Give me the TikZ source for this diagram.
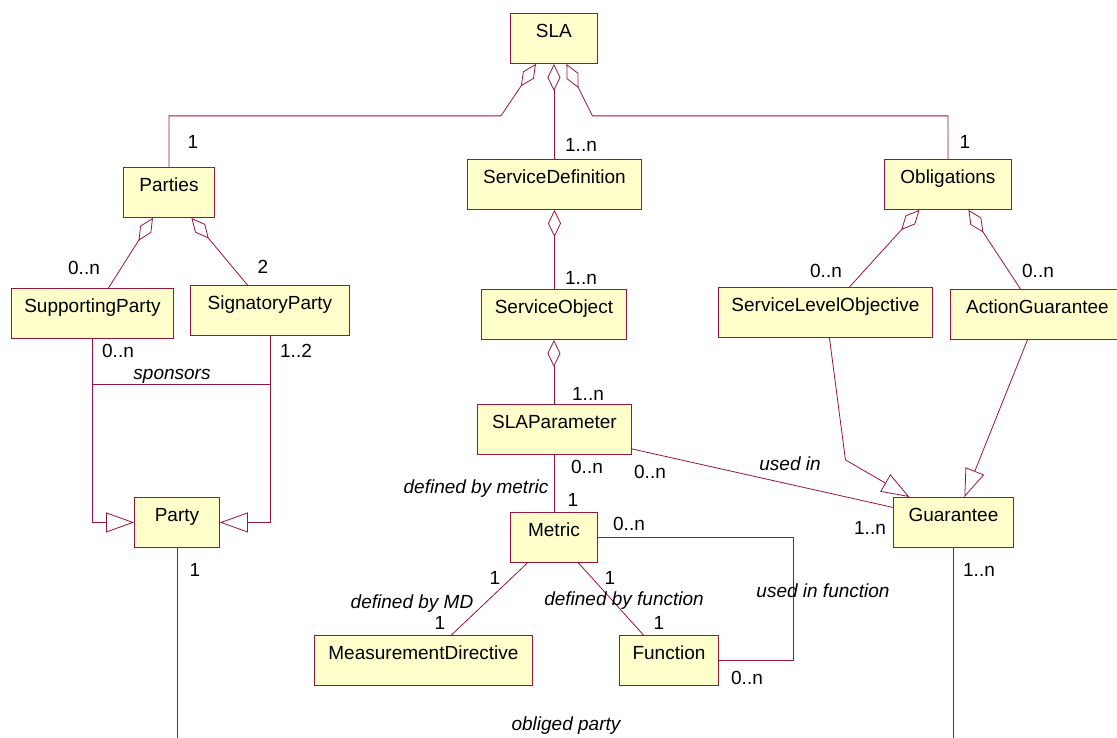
\documentclass[tikz,border=0pt]{standalone}
\usepackage{fontspec}
\setmainfont{Liberation Sans}
\usepackage{tikz}
\usetikzlibrary{arrows.meta}
\usetikzlibrary{calc}
\definecolor{umlred}{RGB}{153,20,60}
\definecolor{umlyellow}{RGB}{255,255,204}
\tikzset{
	classbox/.style={draw=umlred,fill=umlyellow,line width=0.9pt,anchor=north west,shape=rectangle,inner xsep=0pt,inner ysep=10pt,text height=14pt,text depth=16pt,align=center},
	link/.style={draw=umlred,line width=0.8pt},
	aggr/.style={link,{Diamond[open,length=27pt,width=13pt]}-},
	gener/.style={link,-{Triangle[open,length=28pt,width=20pt]}},
	mult/.style={inner sep=0pt,text height=14pt,text depth=0pt},
	role/.style={mult,font=\fontsize{19}{22}\selectfont\itshape}
}
\newcommand{\drawclass}[4]{
	\draw #1 node (#2) [classbox,minimum width=#3] {#4};
}
\begin{document}
\begin{tikzpicture}[x=1pt,y=-1pt,font=\fontsize{19}{22}\selectfont]
	\useasboundingbox[fill=white] (0,0) rectangle (1117,738);
	\drawclass{(510,13)}{sla}{87pt}{SLA}
	\drawclass{(123,167)}{parties}{91pt}{Parties}
	\drawclass{(467,159)}{servdef}{174pt}{ServiceDefinition}
	\drawclass{(884,159)}{oblig}{127pt}{Obligations}
	\drawclass{(11,288)}{supp}{162pt}{SupportingParty}
	\drawclass{(190,285)}{sign}{159pt}{SignatoryParty}
	\drawclass{(481,289)}{servobj}{145pt}{ServiceObject}
	\drawclass{(718,287)}{slo}{214pt}{ServiceLevelObjective}
	\drawclass{(950,289)}{actg}{174pt}{ActionGuarantee}
	\drawclass{(477,404)}{slapar}{154pt}{SLAParameter}
	\drawclass{(134,497)}{party}{85pt}{Party}
	\drawclass{(893,497)}{guar}{120pt}{Guarantee}
	\drawclass{(510,512)}{metric}{87pt}{Metric}
	\drawclass{(314,635)}{mdir}{218pt}{MeasurementDirective}
	\drawclass{(619,635)}{func}{99pt}{Function}
	\coordinate (bottom) at (560,740);
	\draw[aggr] ([xshift=-18pt]sla.south) -- ++(-35,52) -| (parties.north);
	\draw[aggr] (sla.south) -- (sla.south |- servdef.north);
	\draw[aggr] ([xshift=12.5pt]sla.south) -- ++(26,52) -| (oblig.north);
	\draw[aggr] ([xshift=-16pt]parties.south) -- ([xshift=16pt]supp.north);
	\draw[aggr] ([xshift=22.5pt]parties.south) -- ([xshift=-22.5pt]sign.north);
	\draw[aggr] (servdef.south) -- (servdef.south |- servobj.north);
	\draw[aggr] (servobj.south) -- (servobj.south |- slapar.north);
	\draw[aggr] ([xshift=-28.5pt]oblig.south) -- ([xshift=24pt]slo.north);
	\draw[aggr] ([xshift=20.5pt]oblig.south) -- ([xshift=-17pt]actg.north);
	\draw[gener] (supp.south) |- (party.west);
	\draw[gener] (sign.south) |- (party.east);
	\coordinate (sp) at ([yshift=-45pt]supp.south);
	\draw[link] (sp) -- (sp -| sign.south);
	\draw[gener] ([xshift=4pt]slo.south) -- ++(16,122) -- ([xshift=-44pt]guar.north);
	\draw[gener] ([xshift=-10pt]actg.south) -- ([xshift=11pt]guar.north);
	\draw[link] (slapar.south) -- (slapar.south |- metric.north);
	\draw[link] ([yshift=6pt]slapar.south east) -- ([yshift=15pt]guar.west);
	\draw[link] (metric.east) -- ++(195,0) |- (func.east);
	\draw[link] ([xshift=-26.5pt]metric.south) -- ([xshift=28pt]mdir.north);
	\draw[link] ([xshift=24.5pt]metric.south) -- ([xshift=-25.5pt]func.north);
	\draw[link] (party.south) -- (party.south |- bottom);
	\draw[link] (guar.south) -- (guar.south |- bottom);
	\foreach \x / \y / \t [count=\k] in {193/142/1, 581/145/1..n, 965/142/1, 84/268/0..n, 263/266/2, 581/277/1..n, 826/270/0..n, 1038/270/0..n, 118/350/0..n, 296/350/1..2, 588/393/1..n, 587/466/0..n, 573/499/1, 650/471/0..n, 870/527/1..n, 629/523/0..n, 495/577/1, 440/622/1, 610/577/1, 659/622/1, 747/677/0..n, 195/569/1, 979/569/1..n} {
		\node[mult] (mult\k) at (\x,\y) {\t};
	}
	\foreach \x / \y / \t [count=\k] in {172/372/sponsors, 476/486/defined by metric, 790/463/used in, 412/601/defined by MD, 624/598/defined by function, 823/590/used in function, 566/723/obliged party} {
		\node[role] (role\k) at (\x,\y) {\t};
	}
\end{tikzpicture}
\end{document}
